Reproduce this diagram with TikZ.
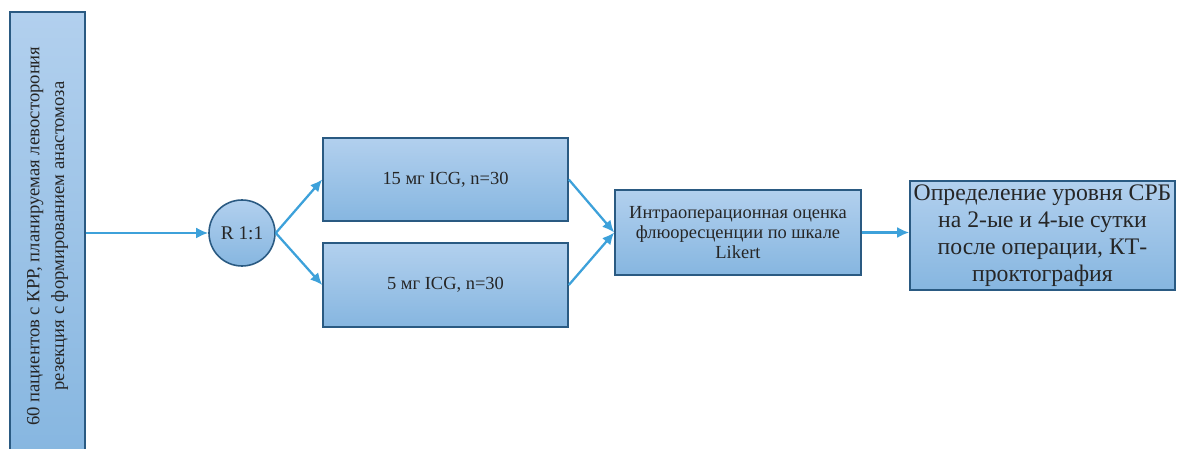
\documentclass[tikz,border=0pt]{standalone}
\usepackage{fontspec}
\setmainfont{Liberation Serif}
\usetikzlibrary{arrows.meta,positioning}

\definecolor{boxline}{HTML}{2A5A82}
\definecolor{boxtop}{HTML}{B2D0EE}
\definecolor{boxbot}{HTML}{86B6E0}
\definecolor{arrowblue}{HTML}{3DA1DA}
\definecolor{textgray}{HTML}{262626}

\tikzset{
  box/.style={draw=boxline,line width=0.9pt,top color=boxtop,bottom color=boxbot,
    text=textgray,align=center,inner sep=2pt},
  link/.style={-{Latex[length=2.4mm,width=2.2mm]},draw=arrowblue,line width=1.3pt}
}

\begin{document}
\begin{tikzpicture}

\useasboundingbox (0,0) rectangle (23.56,8.98);
\clip (0,0) rectangle (23.56,8.98);

% patients
\node[box,minimum width=8.96cm,minimum height=1.5cm,rotate=90,font=\fontsize{10.6}{14}\selectfont]
  (pts) at (0.95,4.26) {60 пациентов с КРР, планируемая левосторония\\резекция с формированием анастомоза};

% randomisation
\node[box,circle,minimum size=1.32cm,font=\fontsize{11}{13}\selectfont] (rand) at (4.84,4.32) {R 1:1};

% dose groups
\node[box,minimum width=4.9cm,minimum height=1.66cm,font=\fontsize{10.5}{13}\selectfont]
  (dose15) at (8.91,5.39) {15 мг ICG, n=30};
\node[box,minimum width=4.9cm,minimum height=1.68cm,font=\fontsize{10.5}{13}\selectfont]
  (dose5) at (8.91,3.28) {5 мг ICG, n=30};

% likert scoring
\node[box,minimum width=4.92cm,minimum height=1.7cm,font=\fontsize{10.5}{11.5}\selectfont]
  (likert) at (14.76,4.33) {Интраоперационная оценка\\флюоресценции по шкале\\Likert};

% outcome
\node[box,minimum width=5.3cm,minimum height=2.18cm,font=\fontsize{13.5}{15.4}\selectfont]
  (crp) at (20.85,4.27) {Определение уровня СРБ\\на 2-ые и 4-ые сутки\\после операции, КТ-\\проктография};

% arrows
\draw[link] (pts.south |- rand.west) -- (rand.west);
\draw[link] (rand.east) -- (dose15.west);
\draw[link] (rand.east) -- (dose5.west);
\draw[link] (dose15.east) -- (likert.west);
\draw[link] (dose5.east) -- (likert.west);
\draw[link] (likert.east) -- (likert.east -| crp.west);

\end{tikzpicture}
\end{document}
